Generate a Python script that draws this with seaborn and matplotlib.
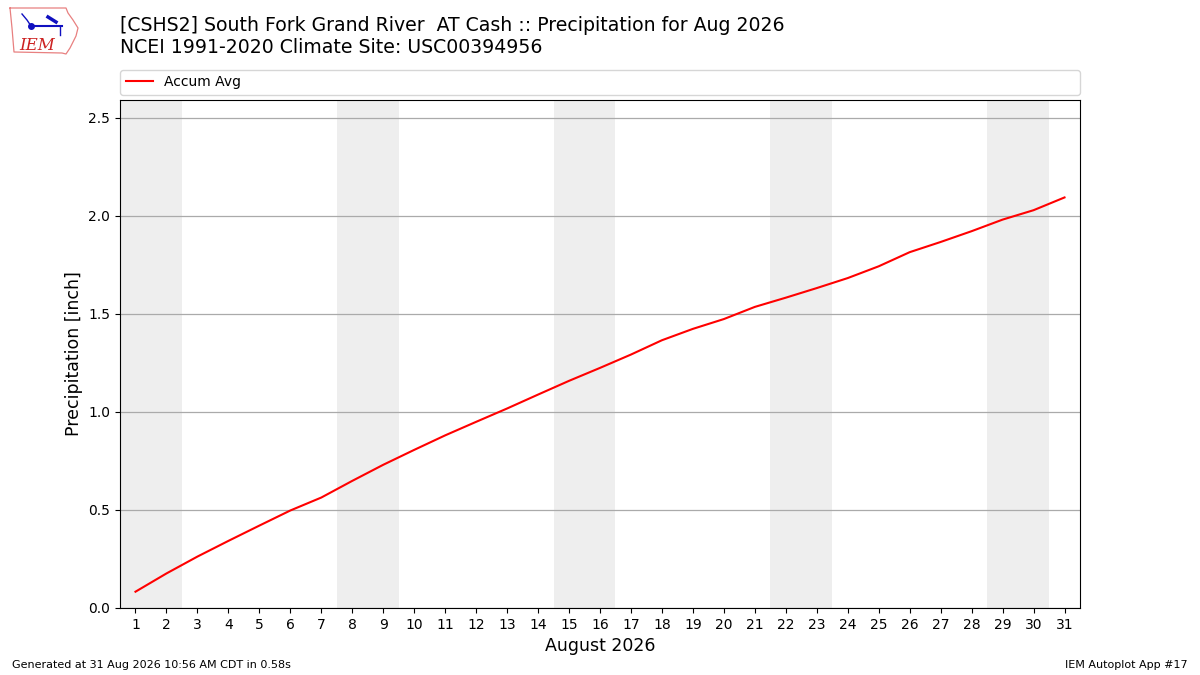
import numpy as np
import pandas as pd
import matplotlib
matplotlib.use("Agg")
import matplotlib.pyplot as plt
import seaborn as sns

# Daily accumulated average precipitation (inch), Aug 1..31
days = list(range(1, 32))
accum_avg = [0.083, 0.176, 0.262, 0.342, 0.420, 0.497, 0.563, 0.648, 0.730, 0.806,
             0.880, 0.949, 1.017, 1.088, 1.158, 1.224, 1.292, 1.365, 1.423, 1.473,
             1.535, 1.582, 1.631, 1.682, 1.742, 1.814, 1.866, 1.921, 1.980, 2.028,
             2.093]
# first day (Saturday) of each weekend in Aug 2026
weekend_starts = [1, 8, 15, 22, 29]

df = pd.DataFrame({"day": days, "precip": accum_avg})

fig = plt.figure(figsize=(12, 6.75), dpi=100)
ax = fig.add_axes([0.1, 0.0993, 0.8, 0.7526])

for d in weekend_starts:
    ax.axvspan(d - 0.5, d + 1.5, color="#EEEEEE", zorder=0, lw=0)

sns.lineplot(data=df, x="day", y="precip", color="red", lw=1.5,
             label="Accum Avg", ax=ax, zorder=3)

ax.set_xlim(0.5, 31.5)
ax.set_ylim(0, 2.59)
ax.set_xticks(days)
ax.set_yticks(np.arange(0, 2.51, 0.5))
ax.yaxis.grid(True, color="#AAAAAA", lw=0.9, zorder=1)
ax.set_axisbelow(True)
ax.set_xlabel("August 2026", fontsize=12.5)
ax.set_ylabel("Precipitation [inch]", fontsize=12.5)

ax.legend(loc="lower left", bbox_to_anchor=(0, 1.01, 1, 0.05), mode="expand",
          ncol=1, fontsize=10, borderaxespad=0, frameon=True)

fig.text(0.1, 0.962, "[CSHS2] South Fork Grand River  AT Cash :: Precipitation for Aug 2026",
         fontsize=13.6, va="center", ha="left")
fig.text(0.1, 0.929, "NCEI 1991-2020 Climate Site: USC00394956",
         fontsize=13.6, va="center", ha="left")

# small IEM logo
lax = fig.add_axes([0, 1 - 65 / 675, 90 / 1200, 65 / 675])
lax.set_xlim(0, 90)
lax.set_ylim(65, 0)
lax.axis("off")
ox = [10, 66, 68, 73, 78, 76, 73, 70, 66, 62, 14, 13, 12, 11, 10]
oy = [8, 8, 13, 20, 28, 36, 42, 48, 54, 53, 52, 40, 28, 18, 8]
lax.plot(ox, oy, color="#E88080", lw=0.9)
lax.plot([31, 62], [26, 26], color="#1010C0", lw=1.5)
lax.plot([31], [26], "o", color="#1010C0", ms=4)
lax.plot([22, 27, 31], [14, 20, 26], color="#1010C0", lw=1)
lax.plot([48, 56], [17, 22], color="#1010C0", lw=2.5)
lax.plot([60, 60], [26, 35], color="#1010C0", lw=1)
lax.text(37, 45, "IEM", fontsize=12, color="#CC2222", family="serif",
         style="italic", va="center", ha="center")

fig.text(0.01, 0.011, "Generated at 31 Aug 2026 10:56 AM CDT in 0.58s", fontsize=8)
fig.text(0.99, 0.011, "IEM Autoplot App #17", fontsize=8, ha="right")

fig.savefig("out.png", dpi=100)
